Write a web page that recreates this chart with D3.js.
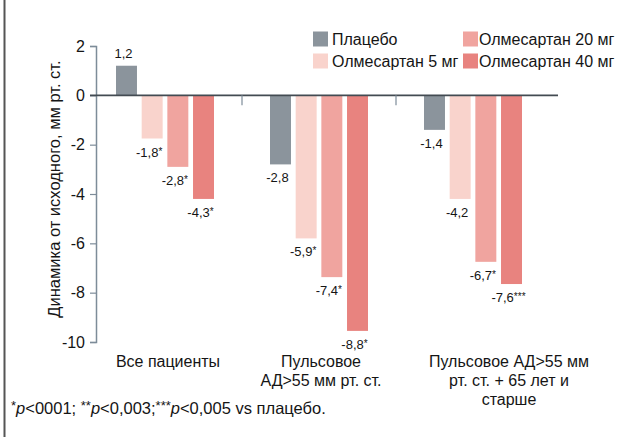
<!DOCTYPE html>
<html>
<head>
<meta charset="utf-8">
<script src="https://cdn.jsdelivr.net/npm/d3@7"></script>
<style>
body { margin: 0; background: #fff; }
svg { display: block; font-family: "Liberation Sans", Arial, sans-serif; }
</style>
</head>
<body>
<div id="chart"></div>
<script>
//Chart data
var categories = ["all", "pp55", "pp55old"];
var categoryLines = [
    ["Все пациенты"],
    ["Пульсовое", "АД>55 мм рт. ст."],
    ["Пульсовое АД>55 мм", "рт. ст. + 65 лет и", "старше"]
];
var series = ["Плацебо", "Олмесартан 5 мг", "Олмесартан 20 мг", "Олмесартан 40 мг"];
// bar lengths as drawn in the picture (rows = series, cols = categories)
var placebo = [1.2, -2.8, -1.4];
var olm5 = [-1.75, -5.8, -4.2];
var olm20 = [-2.9, -7.37, -6.75];
var olm40 = [-4.2, -9.55, -7.65];
// printed value labels
var placeboLabels = ["1,2", "-2,8", "-1,4"];
var olm5Labels = ["-1,8*", "-5,9*", "-4,2"];
var olm20Labels = ["-2,8*", "-7,4*", "-6,7*"];
var olm40Labels = ["-4,3*", "-8,8*", "-7,6***"];
var yTicks = [2, 0, -2, -4, -6, -8, -10];

var colors = ["#8b949c", "#f9d3cc", "#f0a49f", "#e8837f"];

var values = [placebo, olm5, olm20, olm40];
var labels = [placeboLabels, olm5Labels, olm20Labels, olm40Labels];

//Dimensions
var width = 618, height = 441;
var axisX = 96;
var ink = "#151515";

var svg = d3.select("#chart")
    .append("svg")
    .attr("width", width)
    .attr("height", height);

//Left frame line
svg.append("line")
    .attr("x1", 4.5).attr("x2", 4.5)
    .attr("y1", 0).attr("y2", 437)
    .attr("stroke", "#555")
    .attr("stroke-width", 2);

var y = d3.scaleLinear()
    .domain([-10, 2])
    .range([342, 46]);

var x0 = d3.scaleBand()
    .domain(categories)
    .range([axisX, 558]);

var x1 = d3.scaleBand()
    .domain(series)
    .range([20, 118])
    .paddingInner(0.183);

//Bars
var rows = [];
series.forEach(function(s, i) {
    categories.forEach(function(c, j) {
        rows.push({ s: s, c: c, v: values[i][j], label: labels[i][j], color: colors[i] });
    });
});

svg.selectAll("rect.bar")
    .data(rows)
    .enter()
    .append("rect")
    .attr("class", "bar")
    .attr("x", function(d) { return x0(d.c) + x1(d.s); })
    .attr("width", x1.bandwidth())
    .attr("y", function(d) { return y(Math.max(0, d.v)); })
    .attr("height", function(d) { return Math.abs(y(d.v) - y(0)); })
    .attr("fill", function(d) { return d.color; });

var vals = svg.selectAll("text.val")
    .data(rows)
    .enter()
    .append("text")
    .attr("class", "val")
    .attr("x", function(d) { return x0(d.c) + x1(d.s) + x1.bandwidth() / 2 - 3; })
    .attr("y", function(d) { return d.v >= 0 ? y(d.v) - 8 : y(d.v) + 18; })
    .attr("text-anchor", "middle")
    .attr("font-size", 13)
    .attr("fill", ink);
vals.append("tspan")
    .text(function(d) { return d.label.replace(/\*/g, ""); });
vals.append("tspan")
    .attr("font-size", 10)
    .attr("dy", -2)
    .text(function(d) { return d.label.replace(/[^*]/g, ""); });

//Y axis
var yAxis = d3.axisLeft(y)
    .tickValues(yTicks)
    .tickSize(6)
    .tickPadding(5)
    .tickFormat(function(d) { return d; });

var gy = svg.append("g")
    .attr("transform", "translate(" + axisX + ",0)")
    .call(yAxis);
gy.select(".domain").attr("stroke", "#7d8c99").attr("stroke-width", 1.5);
gy.selectAll(".tick line").attr("stroke", "#7d8c99").attr("stroke-width", 1.2);
gy.selectAll(".tick text")
    .attr("font-size", 16)
    .attr("fill", ink)
    .attr("font-family", "'Liberation Sans', Arial, sans-serif");

//Zero line
svg.append("line")
    .attr("x1", axisX - 6).attr("x2", 558)
    .attr("y1", y(0)).attr("y2", y(0))
    .attr("stroke", "#434b52")
    .attr("stroke-width", 1.8);

//Group separators
categories.slice(1).forEach(function(c, i) {
    var prevEnd = x0(categories[i]) + x1(series[series.length - 1]) + x1.bandwidth();
    var start = x0(c) + x1(series[0]);
    var mx = (prevEnd + start) / 2;
    svg.append("line")
        .attr("x1", mx).attr("x2", mx)
        .attr("y1", y(0)).attr("y2", y(0) + 10)
        .attr("stroke", "#7d8c99")
        .attr("stroke-width", 1.2);
});

//Category labels
var labelShift = [3, 2, 36];
categories.forEach(function(c, i) {
    var t = svg.append("text")
        .attr("text-anchor", "middle")
        .attr("font-size", 16)
        .attr("fill", ink);
    categoryLines[i].forEach(function(line, k) {
        t.append("tspan")
            .attr("x", x0(c) + x1(series[0]) + 49 + labelShift[i])
            .attr("y", 367 + k * 19)
            .text(line);
    });
});

//Y axis title
svg.append("text")
    .attr("transform", "translate(60,189) rotate(-90)")
    .attr("text-anchor", "middle")
    .attr("font-size", 16.5)
    .attr("fill", ink)
    .text("Динамика от исходного, мм рт. ст.");

//Legend
var legendPos = [[313, 39], [313, 61], [463, 39], [463, 61]];
series.forEach(function(s, i) {
    var g = svg.append("g")
        .attr("transform", "translate(" + legendPos[i][0] + "," + legendPos[i][1] + ")");
    g.append("rect")
        .attr("x", 0).attr("y", -7.5)
        .attr("width", 15).attr("height", 15)
        .attr("fill", colors[i]);
    g.append("text")
        .attr("x", i < 2 ? 19 : 16)
        .attr("y", 5.5)
        .attr("font-size", 16)
        .attr("fill", ink)
        .text(s);
});

//Footnote
var foot = svg.append("text")
    .attr("x", 11)
    .attr("y", 414)
    .attr("font-size", 16.5)
    .attr("fill", ink);
var parts = [["*", "sup"], ["p", "i"], ["<0001; ", ""], ["**", "sup"], ["p", "i"], ["<0,003;", ""],
    ["***", "sup"], ["p", "i"], ["<0,005 vs плацебо.", ""]];
parts.forEach(function(p) {
    var ts = foot.append("tspan").text(p[0]);
    if (p[1] == "i") ts.attr("font-style", "italic");
    if (p[1] == "sup") ts.attr("font-size", 13).attr("dy", -4);
    if (p[1] == "i") ts.attr("dy", 4);
});
</script>
</body>
</html>
